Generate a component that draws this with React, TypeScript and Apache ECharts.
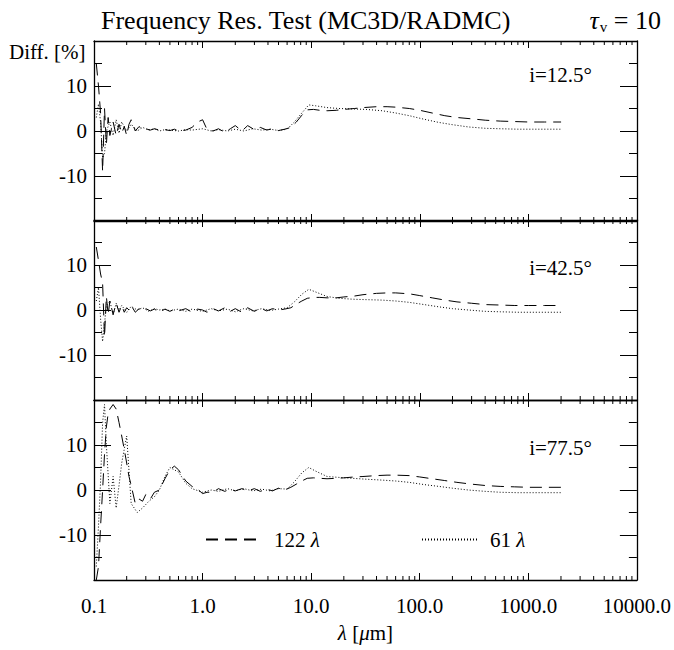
import React, { useEffect, useRef } from "react";
import * as echarts from "echarts";

const FONT = "Liberation Serif";

// wavelength grids (micron)
const lam122 = [0.105, 0.11, 0.115, 0.12, 0.125, 0.13, 0.135, 0.14, 0.15, 0.16, 0.17, 0.18, 0.19, 0.2, 0.21, 0.22, 0.24, 0.26, 0.28, 0.3, 0.33, 0.36, 0.4, 0.45, 0.5, 0.55, 0.6, 0.7, 0.8, 0.9, 1.0, 1.1, 1.25, 1.4, 1.6, 1.8, 2.0, 2.3, 2.6, 3.0, 3.4, 3.9, 4.4, 5.0, 5.7, 6.5, 7.3, 8.2, 9.2, 10.5, 12, 14, 17, 20, 25, 30, 40, 50, 60, 80, 100, 130, 170, 220, 300, 400, 550, 750, 1000, 1400, 2000];
const lam61 = [0.105, 0.11, 0.115, 0.12, 0.125, 0.13, 0.14, 0.15, 0.16, 0.17, 0.18, 0.2, 0.22, 0.25, 0.28, 0.32, 0.36, 0.4, 0.45, 0.5, 0.6, 0.7, 0.8, 1.0, 1.2, 1.4, 1.7, 2.0, 2.4, 2.9, 3.5, 4.2, 5.0, 6.0, 7.0, 8.2, 9.5, 11, 14, 18, 24, 32, 45, 60, 80, 110, 150, 200, 280, 400, 550, 800, 1100, 1500, 2000];

// differences [%], 122 wavelengths
const diff122_i12 = [15, 10, 4, -9, 5, -3, 3, -1, 2, -1, 1.5, -0.5, 1, -1, 1.5, 2.5, 0, 1, 0.3, 0.5, 0.2, 0.5, 0.2, 0.3, 0.1, 0.4, 0, 0.2, 0.8, 2.0, 2.5, 0.3, 0, 0.5, -0.3, 0.5, 1.2, 0, 1.2, 0.3, 0.8, 0.2, 0.5, 0.1, 0.4, 0.8, 2.0, 3.5, 4.7, 4.8, 4.6, 4.5, 4.6, 4.8, 5.0, 5.2, 5.4, 5.4, 5.3, 5.0, 4.6, 4.0, 3.4, 3.0, 2.7, 2.4, 2.2, 2.1, 2.0, 2.0, 2.0];
const diff122_i42 = [14, 11, 8, 6, -6, 3, -1, 2, -1, 1.5, -0.5, 1, -0.5, 0.5, 0, 1, -0.5, 0.3, -0.3, 0.3, -0.2, 0.2, -0.5, 0.2, -0.3, 0.2, -0.2, 0.3, -0.5, 0.2, 0, -0.5, 0.3, -0.2, 0.5, -0.3, 0.3, -0.5, 0.5, -0.3, 0.4, -0.2, 0.3, 0, 0.2, 0.5, 1.3, 2.0, 2.6, 2.8, 2.8, 2.7, 2.7, 2.9, 3.1, 3.4, 3.7, 3.8, 3.8, 3.6, 3.2, 2.7, 2.2, 1.8, 1.5, 1.2, 1.1, 1.0, 1.0, 1.0, 1.0];
const diff122_i77 = [-20, -17, -8, 0, 8, 14, 17, 18, 19, 18, 15, 12, 9, 6, 3, 1, -3, -2, -2.5, -1, -2, -0.5, 0, 2.5, 4.5, 5.3, 4.5, 2.0, 0.8, 0.2, -0.8, -0.5, -0.5, 0.3, -0.3, 0.2, -0.2, 0.3, -0.2, 0.3, -0.3, 0.2, -0.2, 0.4, 0, 0.6, 1.3, 2.0, 2.6, 2.7, 2.6, 2.5, 2.6, 2.7, 2.9, 3.0, 3.2, 3.3, 3.3, 3.2, 2.9, 2.5, 2.1, 1.7, 1.3, 1.0, 0.8, 0.7, 0.6, 0.6, 0.6];

// differences [%], 61 wavelengths
const diff61_i12 = [3, 6, 2, -6, -5, 0, 2, -1, 2.5, -0.5, 2, 0, 1.5, 0, 0.8, 0.2, 0.5, 0, 0.3, 0.2, 0, 0.3, 0.2, 0.5, 0, 0.3, 0, 0.4, 0, 0.5, 0.2, 0.4, 0.1, 0.4, 2.0, 4.0, 5.8, 5.6, 5.2, 5.0, 4.9, 4.8, 4.5, 4.0, 3.4, 2.6, 1.9, 1.4, 0.9, 0.6, 0.5, 0.4, 0.4, 0.4, 0.4];
const diff61_i42 = [2, 5, -2, -7, -3, 1, 2, -1, 1.5, 0, 1, -0.5, 0.8, 0, 0.5, -0.3, 0.3, 0, 0.2, -0.2, 0.2, -0.3, 0.2, -0.3, 0.3, -0.2, 0.2, -0.4, 0.3, -0.2, 0.3, -0.1, 0.2, 0.5, 1.8, 3.5, 4.6, 4.0, 3.0, 2.6, 2.4, 2.3, 2.2, 2.0, 1.7, 1.2, 0.7, 0.3, 0, -0.3, -0.4, -0.5, -0.5, -0.5, -0.5];
const diff61_i77 = [-17, -8, 2, 15, 19, 10, -3, 3, -4, 1, 6, 12, -3, -5, -4, -2.5, -1.5, 0, 3, 5, 4, 1.5, 0.3, -0.5, 0, -0.3, 0.3, -0.2, 0.3, -0.2, 0.2, -0.2, 0.3, 0.2, 1.8, 3.8, 5.0, 4.2, 3.0, 2.8, 2.6, 2.4, 2.2, 2.0, 1.7, 1.2, 0.8, 0.4, 0, -0.3, -0.5, -0.6, -0.6, -0.6, -0.6];

const inclinations = ["i=12.5°", "i=42.5°", "i=77.5°"];
const xTickLabels = ["0.1", "1.0", "10.0", "100.0", "1000.0", "10000.0"];
const yTickValues = [-10, 0, 10];
const xMinorTicks = [0.2, 0.3, 0.4, 0.5, 0.6, 0.7, 0.8, 0.9, 2, 3, 4, 5, 6, 7, 8, 9, 20, 30, 40, 50, 60, 70, 80, 90, 200, 300, 400, 500, 600, 700, 800, 900, 2000, 3000, 4000, 5000, 6000, 7000, 8000, 9000];
const seriesNames = ["122 λ", "61 λ"];

const panels = [
  { d122: diff122_i12, d61: diff61_i12 },
  { d122: diff122_i42, d61: diff61_i42 },
  { d122: diff122_i77, d61: diff61_i77 },
];

const txt = (size: number, extra: any = {}) => ({
  fontFamily: FONT,
  fontSize: size,
  fontWeight: "normal",
  fontStyle: "normal",
  color: "#000",
  ...extra,
});

export default function App() {
  const ref = useRef<HTMLDivElement>(null);
  useEffect(() => {
    document.body.style.margin = "0";
    const chart = echarts.init(ref.current!, null, { renderer: "svg" });
    const gridTops = [41, 220, 400];
    const gridH = 180;
    const grids = gridTops.map((t) => ({ left: 94, width: 543, top: t, height: gridH }));
    const axisLine = { show: true, onZero: false, lineStyle: { color: "#000", width: 1.3 } };
    const xAxes: any[] = [];
    const yAxes: any[] = [];
    const series: any[] = [];
    panels.forEach((p, i) => {
      const isBottom = i === 2;
      const baseX = {
        type: "log",
        logBase: 10,
        min: 0.1,
        max: 10000,
        gridIndex: i,
        axisLine,
        splitLine: { show: false },
        axisTick: { show: true, inside: true, length: 7, lineStyle: { color: "#000", width: 1 } },
      };
      xAxes.push({
        ...baseX,
        position: "bottom",
        axisLabel: isBottom
          ? {
              show: true,
              showMinLabel: true,
              showMaxLabel: true,
              margin: 15,
              ...txt(21),
              formatter: (v: number) => xTickLabels[Math.round(Math.log10(v)) + 1] ?? "",
            }
          : { show: false },
        ...(isBottom
          ? {
              name: "{i|λ} [{i|μ}m]",
              nameLocation: "middle",
              nameGap: 42,
              nameTextStyle: {
                ...txt(21),
                rich: { i: txt(21, { fontStyle: "italic" }) },
              },
            }
          : {}),
      });
      xAxes.push({ ...baseX, position: "top", axisLabel: { show: false } });
      const baseY = {
        type: "value",
        min: -20,
        max: 20,
        interval: 10,
        gridIndex: i,
        axisLine,
        splitLine: { show: false },
        axisTick: { show: true, inside: true, length: 17, lineStyle: { color: "#000", width: 1 } },
        minorTick: { show: true, splitNumber: 2, length: 8, lineStyle: { color: "#000", width: 1 } },
      };
      yAxes.push({
        ...baseY,
        position: "left",
        axisLabel: {
          show: true,
          margin: 7,
          ...txt(21),
          formatter: (v: number) => (yTickValues.includes(v) ? String(v) : ""),
        },
      });
      yAxes.push({ ...baseY, position: "right", axisLabel: { show: false } });

      series.push({
        type: "line",
        name: seriesNames[0],
        xAxisIndex: 2 * i,
        yAxisIndex: 2 * i,
        data: lam122.map((l, k) => [l, p.d122[k]]),
        symbol: "none",
        showSymbol: false,
        lineStyle: { color: "#000", width: 1, type: [12, 7] },
        itemStyle: { color: "#000" },
      });
      series.push({
        type: "line",
        name: seriesNames[1],
        xAxisIndex: 2 * i,
        yAxisIndex: 2 * i,
        data: lam61.map((l, k) => [l, p.d61[k]]),
        symbol: "none",
        showSymbol: false,
        lineStyle: { color: "#000", width: 1, type: [1, 2] },
        itemStyle: { color: "#000" },
      });
      series.push({
        type: "custom",
        xAxisIndex: 2 * i,
        yAxisIndex: 2 * i,
        silent: true,
        data: xMinorTicks.map((v) => [v, 0]),
        encode: { x: 0, y: 1 },
        renderItem: (params: any, api: any) => {
          const v = api.value(0);
          const b = api.coord([v, -20]);
          const t = api.coord([v, 20]);
          return {
            type: "group",
            children: [
              { type: "line", shape: { x1: b[0], y1: b[1], x2: b[0], y2: b[1] - 4 }, style: { stroke: "#000", lineWidth: 1 } },
              { type: "line", shape: { x1: t[0], y1: t[1], x2: t[0], y2: t[1] + 4 }, style: { stroke: "#000", lineWidth: 1 } },
            ],
          };
        },
      });
    });

    const legendFmt = (name: string) => {
      const parts = name.split(" ");
      return `{n|${parts[0]} }{l|${parts[1]}}`;
    };
    const legendBase = {
      top: 524,
      itemWidth: 55,
      itemHeight: 14,
      selectedMode: false,
      formatter: legendFmt,
      textStyle: {
        ...txt(21),
        rich: {
          n: txt(21, { padding: [0, 0, 0, 8] }),
          l: txt(21, { fontStyle: "italic" }),
        },
      },
      itemStyle: { opacity: 0, color: "transparent", borderWidth: 0 },
    };

    const option: any = {
      animation: false,
      backgroundColor: "#fff",
      textStyle: { fontFamily: FONT, fontWeight: "normal" },
      title: [
        {
          text: "Frequency Res. Test (MC3D/RADMC)",
          left: 96,
          top: 2,
          textStyle: txt(26),
        },
        {
          text: "{t|τ}{s|v}{a| = 10}",
          right: 8,
          top: 2,
          textStyle: {
            ...txt(26),
            rich: {
              t: txt(26, { fontStyle: "italic" }),
              s: txt(15, { verticalAlign: "bottom", padding: [12, 0, 0, 1] }),
              a: txt(26),
            },
          },
        },
      ],
      legend: [
        { ...legendBase, data: [seriesNames[0]], left: 200 },
        { ...legendBase, data: [seriesNames[1]], left: 416 },
      ],
      graphic: [
        {
          type: "text",
          left: 9,
          top: 41,
          style: { text: "Diff. [%]", font: "normal normal 21px Liberation Serif", fill: "#000" },
        },
        ...inclinations.map((s, i) => ({
          type: "text",
          right: 82,
          top: [64, 257, 437][i],
          style: { text: s, font: "normal normal 21px Liberation Serif", fill: "#000" },
        })),
      ],
      grid: grids,
      xAxis: xAxes,
      yAxis: yAxes,
      series,
    };
    chart.setOption(option);
    return () => chart.dispose();
  }, []);
  return <div ref={ref} style={{ width: 674, height: 650 }} />;
}
